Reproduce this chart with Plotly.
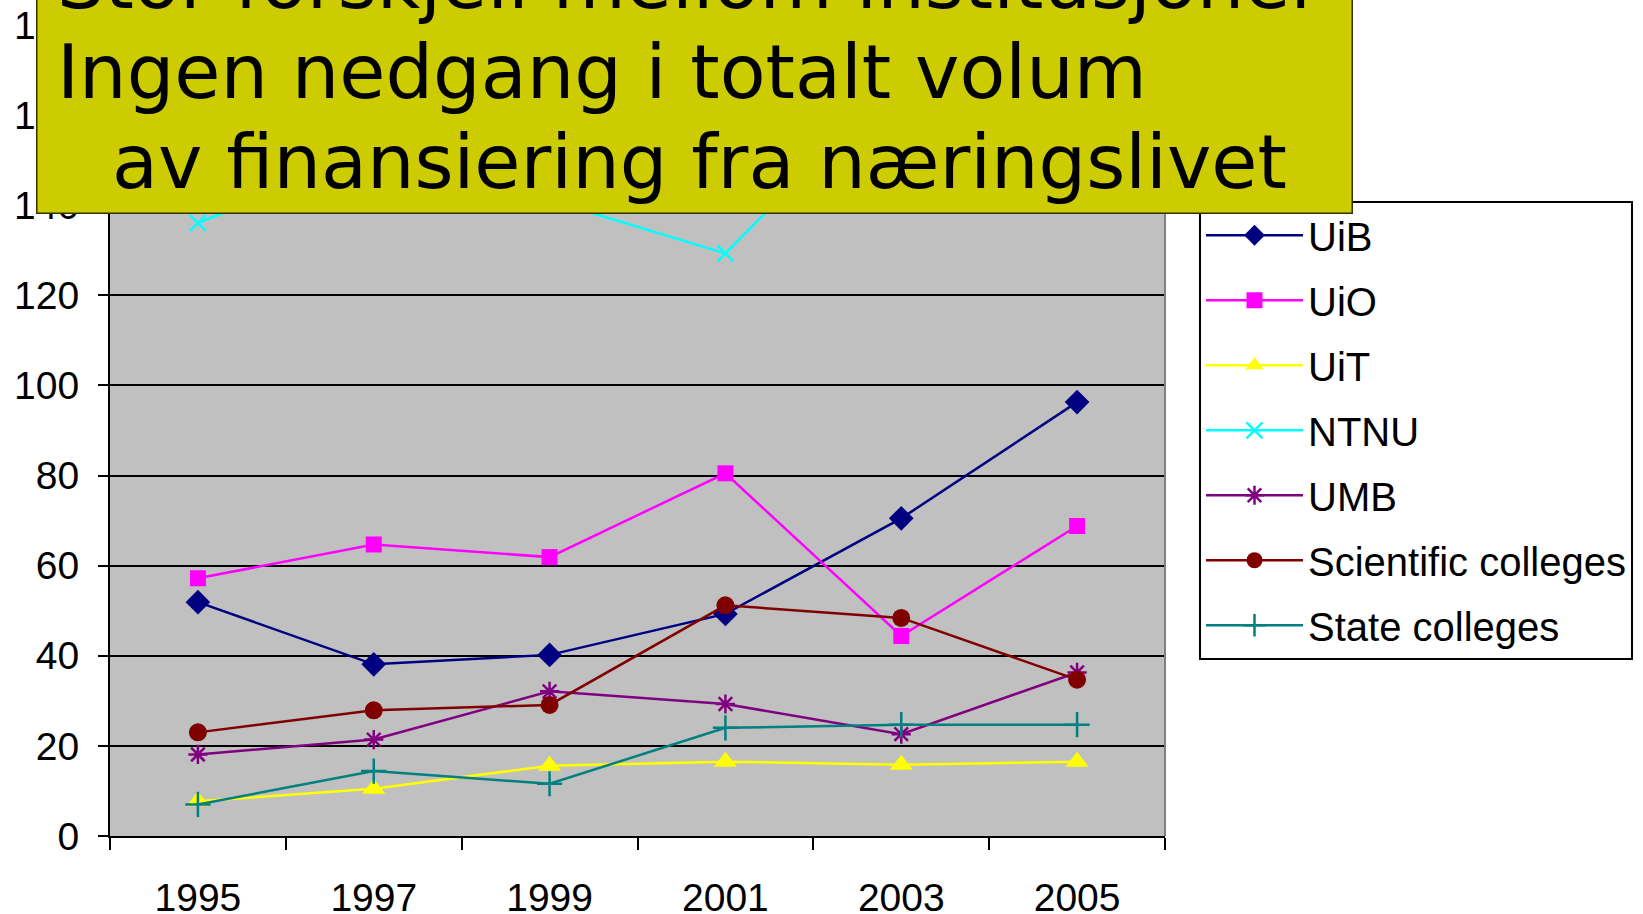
import plotly.graph_objects as go

years = ["1995", "1997", "1999", "2001", "2003", "2005"]
uib = [51.9, 38.1, 40.2, 49.3, 70.5, 96.3]
uio = [57.2, 64.7, 61.9, 80.5, 44.4, 68.8]
uit = [7.7, 10.5, 15.6, 16.5, 15.8, 16.5]
ntnu = [136.1, 151, 141.1, 129.3, 169, 160]
umb = [18.1, 21.4, 32.1, 29.3, 22.6, 36.3]
sci = [23.0, 27.9, 29.1, 51.2, 48.4, 34.7]
state = [7.0, 14.4, 11.6, 24.0, 24.7, 24.7]

y_ticks = [0, 20, 40, 60, 80, 100, 120, 140, 160, 180]

title_lines = ["Stor forskjell mellom institusjoner",
               "Ingen nedgang i totalt volum",
               "av finansiering fra næringslivet"]

series = [
    ("UiB", uib, "#000080", "diamond", 19),
    ("UiO", uio, "#FF00FF", "square", 16),
    ("UiT", uit, "#FFFF00", "triangle-up", 20),
    ("NTNU", ntnu, "#00FFFF", "x-thin", 16),
    ("UMB", umb, "#800080", "asterisk", 16),
    ("Scientific colleges", sci, "#800000", "circle", 18),
    ("State colleges", state, "#008080", "cross-thin", 18),
]

fig = go.Figure()
for i, (name, vals, col, sym, msize) in enumerate(series):
    thin = sym in ("x-thin", "asterisk", "cross-thin")
    fig.add_trace(go.Scatter(
        x=years, y=vals, name=name, mode="lines+markers",
        legendgroup="g%d" % i,
        line=dict(color=col, width=2.5),
        marker=dict(symbol=sym, size=msize, color=col,
                    line=dict(color=col, width=2.5 if thin else 0)),
    ))

W, H = 1643, 914
L, R, B, T = 110, 1165, 836, 25.3


def px(p):
    return (p - L) / (R - L)


def py(p):
    return (B - p) / (B - T)


annotations = [
    dict(text=" ", xref="paper", yref="paper", x=px(36), y=py(214.5),
         xanchor="left", yanchor="bottom", showarrow=False,
         width=1314, height=260, bgcolor="#CCCC00",
         bordercolor="#333300", borderwidth=1.5, borderpad=0),
]
line_pos = [(55, -18), (55, 72), (110, 162)]
for txt, (lx, ly) in zip(title_lines, line_pos):
    annotations.append(dict(
        text=txt, xref="paper", yref="paper", x=px(lx), y=py(ly),
        xanchor="left", yanchor="middle", showarrow=False,
        font=dict(family="DejaVu Sans", size=75, color="black")))

fig.update_layout(
    width=W, height=H,
    margin=dict(l=L, r=W - R, t=T, b=H - B, autoexpand=False),
    paper_bgcolor="white", plot_bgcolor="#C0C0C0",
    font=dict(family="Liberation Sans, Arial", color="black"),
    showlegend=True,
    legend=dict(x=px(1199), y=py(201), xanchor="left", yanchor="top",
                bgcolor="white", bordercolor="black", borderwidth=2,
                font=dict(size=40, family="Liberation Sans, Arial"),
                tracegroupgap=10, itemwidth=97),
    xaxis=dict(type="category", range=[-0.5, 5.5],
               tickson="boundaries", ticks="outside",
               ticklen=12, tickwidth=2, tickcolor="black",
               showline=True, linecolor="black", linewidth=2,
               showgrid=False, tickfont=dict(size=39),
               ticklabelstandoff=26, fixedrange=True),
    yaxis=dict(range=[0, 180], tickvals=y_ticks, ticks="outside",
               ticklen=10, tickwidth=2, tickcolor="black",
               showline=True, linecolor="black", linewidth=2,
               showgrid=True, gridcolor="black", gridwidth=2,
               zeroline=False, tickfont=dict(size=39),
               ticklabelstandoff=11, fixedrange=True),
    annotations=annotations,
    shapes=[dict(type="line", xref="paper", yref="paper", x0=1, x1=1,
                 y0=0, y1=1, line=dict(color="#808080", width=2))],
)

fig.write_html("out.html", config={"displayModeBar": False},
               post_script="document.body.style.margin='0';"
                           "document.body.style.overflow='hidden';")
